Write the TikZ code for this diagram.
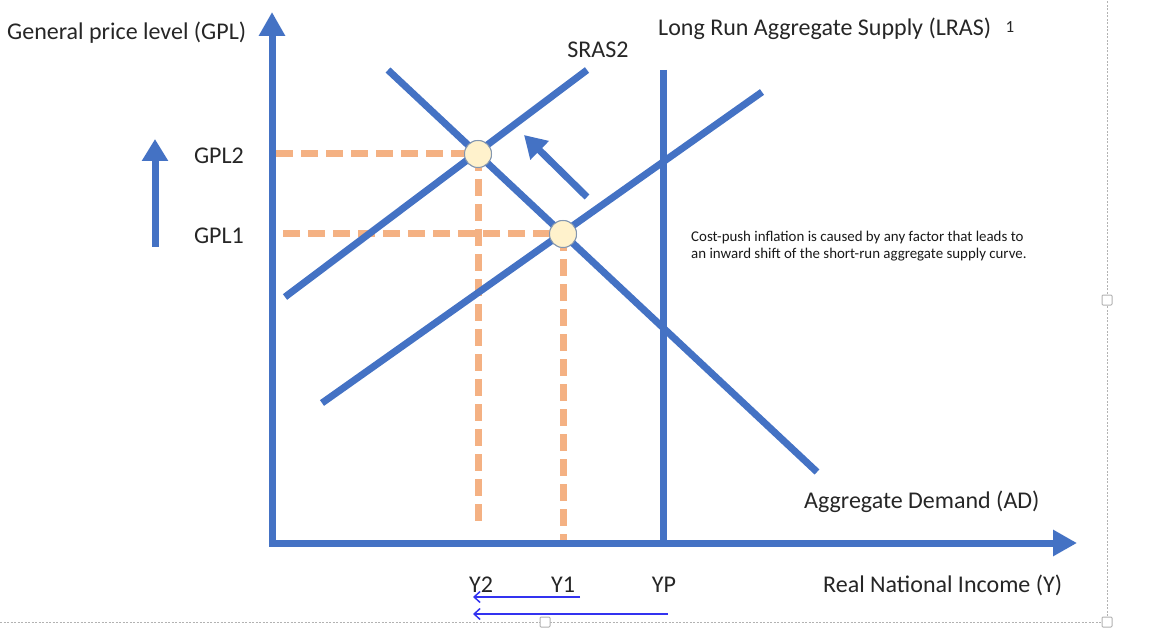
\documentclass[tikz,border=0pt]{standalone}
\usepackage{fontspec}
\setmainfont{Carlito}
\usetikzlibrary{arrows.meta}

\definecolor{curveblue}{HTML}{4472C4}
\definecolor{guideorange}{HTML}{F4B183}
\definecolor{eqfill}{HTML}{FFF2CC}
\definecolor{eqedge}{HTML}{8497B0}
\definecolor{shiftblue}{HTML}{3333F0}

\tikzset{
  curve/.style={curveblue, line width=7pt},
  axis/.style={curveblue, line width=7pt, line join=miter,
    {Triangle[length=24pt,width=25pt]}-{Triangle[length=24pt,width=25pt]}},
  bigarrow/.style={curveblue, line width=7pt, -{Triangle[length=22pt,width=25pt]}},
  guide/.style={guideorange, line width=7pt, dash pattern=on 17pt off 8pt},
  eq/.style={circle, draw=eqedge, fill=eqfill, line width=1pt, minimum size=27pt, inner sep=0pt},
  lbl/.style={font=\fontsize{24}{28}\selectfont, inner sep=0pt, text=black!85},
  note/.style={font=\fontsize{14.9}{17}\selectfont, inner sep=0pt, align=left, text=black!90},
  incomearrow/.style={shiftblue, line width=1.5pt, -{Straight Barb[length=6pt,width=11pt]}},
  frameline/.style={black!30, line width=1pt, dash pattern=on 2pt off 1.5pt},
  handle/.style={draw=black!30, fill=white, rounded corners=1pt, minimum size=10pt, inner sep=0pt, line width=1pt}
}

\begin{document}
\begin{tikzpicture}[x=1pt,y=-1pt]
  \useasboundingbox (0,0) rectangle (1153,636);

  % selection frame
  \draw[frameline] (0,622) -- (1107,622) -- (1107,0);
  \node[handle] (h1) at (1107,300) {};
  \node[handle] (h2) at (1107,622) {};
  \node[handle] (h3) at (545,622) {};

  % points of the curves
  \coordinate (O) at (272,543);
  \coordinate (ytop) at (272,12);
  \coordinate (xend) at (1077,543);
  \coordinate (lrastop) at (663,70);
  \coordinate (sras2a) at (285,297);
  \coordinate (sras2b) at (587,70);
  \coordinate (sras1a) at (322,403);
  \coordinate (sras1b) at (762,92);
  \coordinate (ada) at (388,70);
  \coordinate (adb) at (817,472);

  \node[eq] (e2) at (478,154) {};
  \node[eq] (e1) at (563,234) {};

  % dashed guides
  \coordinate (gpl2end) at (276,154);
  \coordinate (gpl1end) at (283,234);
  \coordinate (y2end) at (478,528);
  \coordinate (y1end) at (563,540);
  \draw[guide] (gpl2end) -- (e2.center);
  \draw[guide] (gpl1end) -- (e1.center);
  \draw[guide] (e2.center) -- (y2end);
  \draw[guide] (e1.center) -- (y1end);

  % curves
  \draw[curve] (lrastop) -- (lrastop |- O);
  \draw[curve] (sras2a) -- (sras2b);
  \draw[curve] (sras1a) -- (sras1b);
  \draw[curve] (ada) -- (adb);
  \draw[axis] (ytop) -- (O) -- (xend);

  \node[eq] at (e2) {};
  \node[eq] at (e1) {};

  % shift arrows
  \coordinate (shifta) at (587,197);
  \coordinate (shiftb) at (524,135);
  \draw[bigarrow] (shifta) -- (shiftb);
  \coordinate (gpla) at (155,247);
  \coordinate (gplb) at (155,139);
  \draw[bigarrow] (gpla) -- (gplb);

  % labels
  \node[lbl, anchor=west] (ylabel) at (7,33) {General price level (GPL)};
  \node[lbl, anchor=east] (gpl2) at (244,156) {GPL2};
  \node[lbl, anchor=east] (gpl1) at (244,236) {GPL1};
  \node[lbl] (sras2lbl) at (598,50) {SRAS2};
  \node[lbl, anchor=west] (lraslbl) at (658,29) {Long Run Aggregate Supply (LRAS)};
  \node[lbl, font=\fontsize{17}{20}\selectfont] (onelbl) at (1010,27) {1};
  \node[note, anchor=north west] (costnote) at (691,231)
    {Cost-push inflation is caused by any factor that leads to\\an inward shift of the short-run aggregate supply curve.};
  \node[lbl, anchor=west] (adlbl) at (804,502) {Aggregate Demand (AD)};
  \node[lbl] (y2lbl) at (481,585) {Y2};
  \node[lbl] (y1lbl) at (563,585) {Y1};
  \node[lbl] (yplbl) at (664,585) {YP};
  \node[lbl, anchor=west] (xlabel) at (823,585) {Real National Income (Y)};

  % shifts of income
  \coordinate (s1a) at (580,597);
  \coordinate (s1b) at (473,597);
  \coordinate (s2a) at (668,614);
  \coordinate (s2b) at (473,614);
  \draw[incomearrow] (s1a) -- (s1b);
  \draw[incomearrow] (s2a) -- (s2b);
\end{tikzpicture}
\end{document}
